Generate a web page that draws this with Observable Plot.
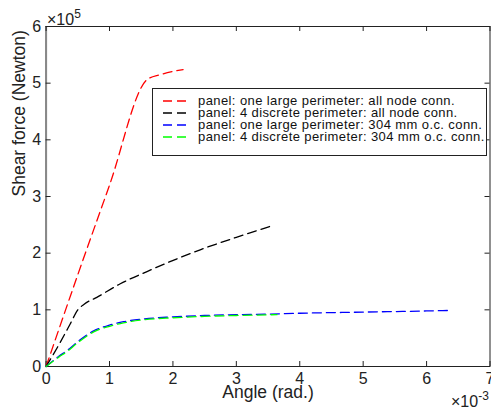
<!DOCTYPE html>
<html><head><meta charset="utf-8">
<script src="https://cdn.jsdelivr.net/npm/d3@7"></script>
<script src="https://cdn.jsdelivr.net/npm/@observablehq/plot@0.6"></script>
<style>
body{margin:0;background:#fff;font-family:"Liberation Sans",Arial,Helvetica,sans-serif}
#wrap{position:relative;width:491px;height:408px;overflow:hidden}
#wrap svg{display:block}
.exp{position:absolute;font-size:16px;color:#222;line-height:1;white-space:nowrap}
.exp sup{font-size:12px;position:relative;top:-1px}
#legend{position:absolute;left:152px;top:88px;width:335px;height:68px;border:1px solid #222;background:#fff;box-sizing:border-box;font-size:13px;color:#111}
.row{position:absolute;left:0;height:12px;line-height:12px;white-space:nowrap}
.row svg{position:absolute;left:9px;top:0}
.row span{position:absolute;left:45px;top:0}
</style></head><body>
<div id="wrap"></div>
<script>
// Series (x in radians, y in Newton)
const seriesNames = [
  "panel: one large perimeter: all node conn.",
  "panel: 4 discrete perimeter: all node conn.",
  "panel: one large perimeter: 304 mm o.c. conn.",
  "panel: 4 discrete perimeter: 304 mm o.c. conn."
];
const seriesColors = ["#ff0000", "#000000", "#0000ff", "#00ff00"];

const redX = [0, 0.0005, 0.001, 0.00159, 0.0018, 0.00216];
const redY = [0, 162000, 320000, 506000, 515000, 524000];

const blackX = [0, 0.0002, 0.00038, 0.0005, 0.0006, 0.0008, 0.00117, 0.0016, 0.00243, 0.003, 0.00358];
const blackY = [0, 38000, 75000, 100000, 110000, 122000, 146000, 168000, 206000, 228000, 249000];

const blueX = [0, 0.0002, 0.00033, 0.0005, 0.00075, 0.001, 0.00122, 0.00154, 0.002, 0.0025, 0.003, 0.0035, 0.004, 0.005, 0.006, 0.0064];
const blueY = [0, 18000, 28000, 44000, 63000, 73000, 79000, 84000, 87500, 90000, 91500, 92500, 94000, 96000, 98000, 99000];

const greenX = [0, 0.0002, 0.00033, 0.0005, 0.00075, 0.001, 0.00122, 0.00154, 0.002, 0.0025, 0.003, 0.00364];
const greenY = [0, 16500, 26500, 42000, 61000, 71000, 77000, 82500, 86000, 88500, 90000, 91500];

const xTicks = [0, 0.001, 0.002, 0.003, 0.004, 0.005, 0.006, 0.007];
const xTickLabels = ["0", "1", "2", "3", "4", "5", "6", "7"];
const yTicks = [0, 100000, 200000, 300000, 400000, 500000, 600000];
const yTickLabels = ["0", "1", "2", "3", "4", "5", "6"];
const xLabel = "Angle (rad.)";
const yLabel = "Shear force (Newton)";

const seriesX = [redX, blackX, blueX, greenX];
const seriesY = [redY, blackY, blueY, greenY];
const rows = [];
seriesX.forEach((xs, i) => xs.forEach((x, j) => rows.push({series: seriesNames[i], x, y: seriesY[i][j]})));

const W = 491, H = 408, mL = 45.6, mR = 1.5, mT = 26, mB = 42;
const fw = W - mL - mR, fh = H - mT - mB;

const chart = Plot.plot({
  width: W, height: H,
  marginLeft: mL, marginRight: mR, marginTop: mT, marginBottom: mB,
  style: {fontFamily: '"Liberation Sans", Arial, sans-serif', fontSize: "16px", background: "white", color: "#222"},
  x: {domain: [0, 0.007]},
  y: {domain: [0, 600000]},
  color: {domain: seriesNames, range: seriesColors},
  marks: [
    Plot.axisX(xTicks, {tickSize: 0, tickPadding: 6, tickFormat: (d, i) => xTickLabels[i], label: null, fontSize: 16}),
    Plot.axisY(yTicks, {tickSize: 0, tickPadding: 5, tickFormat: (d, i) => yTickLabels[i], label: null, fontSize: 16}),
    Plot.frame({stroke: "#222", strokeWidth: 1}),
    Plot.ruleX([0], {stroke: "#888", strokeWidth: 2}),
    Plot.ruleX(xTicks, {stroke: "#222", insetTop: fh - 5}),
    Plot.ruleX(xTicks, {stroke: "#222", insetBottom: fh - 5}),
    Plot.ruleY(yTicks, {stroke: "#222", insetRight: fw - 5}),
    Plot.ruleY(yTicks, {stroke: "#222", insetLeft: fw - 5}),
    Plot.line(rows, {x: "x", y: "y", stroke: "series", strokeWidth: 1.3, strokeDasharray: "9,5", curve: "monotone-x"}),
    Plot.text([xLabel], {frameAnchor: "bottom", dy: 31, fontSize: 17.5, fill: "#222"}),
    Plot.text([yLabel], {frameAnchor: "left", rotate: -90, dx: -27, fontSize: 17.5, fill: "#222"})
  ]
});
const wrap = document.getElementById("wrap");
wrap.appendChild(chart);

// exponent labels
const e1 = document.createElement("div");
e1.className = "exp"; e1.style.left = "47px"; e1.style.top = "9px";
e1.innerHTML = "×10<sup>5</sup>";
wrap.appendChild(e1);
const e2 = document.createElement("div");
e2.className = "exp"; e2.style.left = "451px"; e2.style.top = "391px";
e2.innerHTML = "×10<sup>-3</sup>";
wrap.appendChild(e2);

// legend
const lg = document.createElement("div");
lg.id = "legend";
const rowTops = [6, 18, 30, 42];
wrap.appendChild(lg);
const firstTargetWidth = 257;
let spacing = null;
seriesNames.forEach((n, i) => {
  const r = document.createElement("div");
  r.className = "row"; r.style.top = rowTops[i] + "px";
  r.innerHTML = `<svg width="30" height="12"><line x1="1" x2="29" y1="6" y2="6" stroke="${seriesColors[i]}" stroke-width="1.3" stroke-dasharray="9,5"/></svg><span>${n}</span>`;
  lg.appendChild(r);
  const sp = r.querySelector("span");
  if (spacing === null) {
    const w = sp.getBoundingClientRect().width;
    spacing = Math.max(0, (firstTargetWidth - w) / n.length);
  }
  sp.style.letterSpacing = spacing + "px";
});
</script>
</body></html>
